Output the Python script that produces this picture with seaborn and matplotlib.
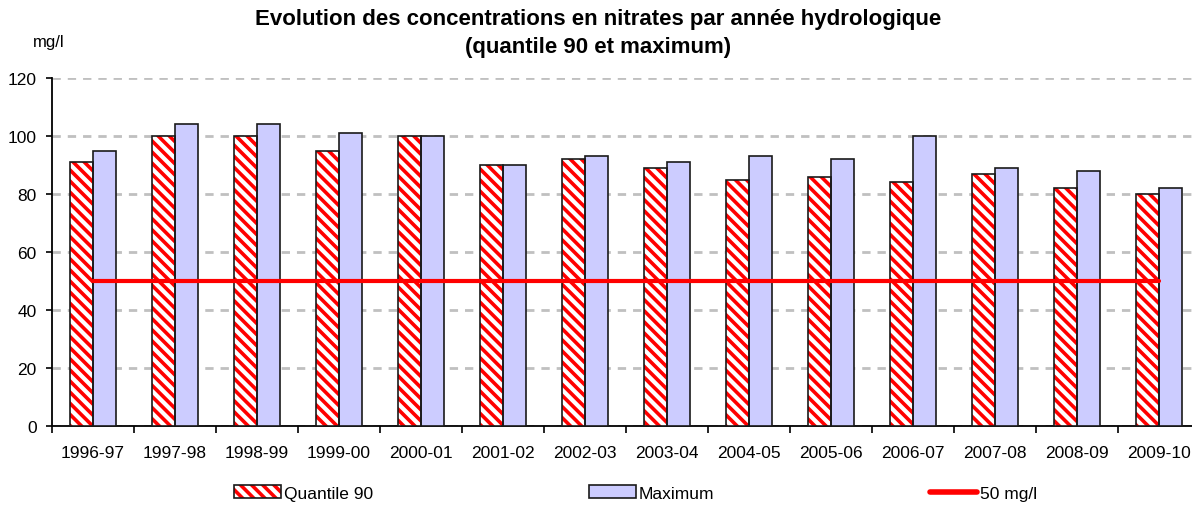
import matplotlib
matplotlib.use("Agg")
import matplotlib.pyplot as plt
import seaborn as sns
import pandas as pd
from matplotlib.patches import Patch, Rectangle
from matplotlib.lines import Line2D
from matplotlib.ticker import FixedLocator

# ── Données ──────────────────────────────────────────────────
annees = ["1996-97", "1997-98", "1998-99", "1999-00", "2000-01", "2001-02", "2002-03",
          "2003-04", "2004-05", "2005-06", "2006-07", "2007-08", "2008-09", "2009-10"]
quantile_90 = [91, 100, 100, 95, 100, 90, 92, 89, 85, 86, 84, 87, 82, 80]
maximum = [95, 104, 104, 101, 100, 90, 93, 91, 93, 92, 100, 89, 88, 82]
seuil = 50
yticks = [0, 20, 40, 60, 80, 100, 120]

sns.set_theme(style="white")
plt.rcParams["font.family"] = ["Liberation Sans", "DejaVu Sans"]
plt.rcParams["text.color"] = "black"
plt.rcParams["hatch.linewidth"] = 2.6

HATCH = "\\\\\\"

df = pd.DataFrame({
    "Annee": annees * 2,
    "Concentration": quantile_90 + maximum,
    "Serie": ["Quantile 90"] * len(annees) + ["Maximum"] * len(annees),
})

fig = plt.figure(figsize=(11.92, 5.06), dpi=100)
ax = fig.add_axes([52 / 1192, 79 / 506, 14 * 82 / 1192, 348 / 506])

sns.barplot(data=df, x="Annee", y="Concentration", hue="Serie",
            palette={"Quantile 90": "white", "Maximum": "#CCCCFF"},
            width=0.55, saturation=1, edgecolor="#1a1a1a", linewidth=1.2,
            legend=False, ax=ax, zorder=3)

# hachures rouges + contour noir pour le quantile 90
for bar in ax.containers[0]:
    bar.set_hatch(HATCH)
    bar.set_edgecolor("red")
    bar.set_linewidth(0)
    ax.add_patch(Rectangle(bar.get_xy(), bar.get_width(), bar.get_height(),
                           fill=False, edgecolor="#1a1a1a", lw=1.2, zorder=3.1))

sns.lineplot(x=annees, y=[seuil] * len(annees), color="red", lw=3,
             sort=False, ax=ax, zorder=5)

ax.set_xlim(-0.5, len(annees) - 0.5)
ax.set_ylim(0, 120)
ax.set_yticks(yticks)
ax.set_xlabel("")
ax.set_ylabel("")

ax.set_axisbelow(True)
ax.yaxis.grid(True, color="#c0c0c0", linestyle=(0, (3, 2.5)), lw=2)
ax.xaxis.grid(False)

for side in ["top", "right"]:
    ax.spines[side].set_visible(False)
for side in ["left", "bottom"]:
    ax.spines[side].set_color("black")
    ax.spines[side].set_linewidth(1.3)

ax.xaxis.set_minor_locator(FixedLocator([i - 0.5 for i in range(len(annees) + 1)]))
ax.tick_params(axis="x", which="major", length=0, pad=14, labelsize=12.5,
               labelcolor="black")
ax.tick_params(axis="x", which="minor", length=5, width=1.2, direction="out",
               bottom=True, color="black")
ax.tick_params(axis="y", length=4, width=1.2, direction="out", pad=7,
               labelsize=12.5, left=True, color="black", labelcolor="black")

fig.text(598 / 1192, 1 - 19 / 506, "Evolution des concentrations en nitrates par année hydrologique",
         ha="center", va="center", fontsize=16, fontweight="bold")
fig.text(598 / 1192, 1 - 47 / 506, "(quantile 90 et maximum)",
         ha="center", va="center", fontsize=16, fontweight="bold")
fig.text(33 / 1192, 1 - 42 / 506, "mg/l", ha="left", va="center", fontsize=12)

handles = [
    (Patch(facecolor="white", edgecolor="red", hatch=HATCH, lw=0),
     Patch(fill=False, edgecolor="#1a1a1a", lw=1.2)),
    Patch(facecolor="#CCCCFF", edgecolor="#1a1a1a", lw=1.2),
    Line2D([], [], color="red", lw=4),
]
leg = fig.legend(handles, ["Quantile 90", "Maximum", "50 mg/l"], ncol=3,
                 loc="center left", bbox_to_anchor=(234 / 1192, 1 - 494 / 506),
                 frameon=False, borderpad=0, borderaxespad=0, handletextpad=0.2,
                 handlelength=2.7, handleheight=0.75, columnspacing=12.4,
                 fontsize=12.5)

plt.savefig("out.png", dpi=100)
plt.close()
